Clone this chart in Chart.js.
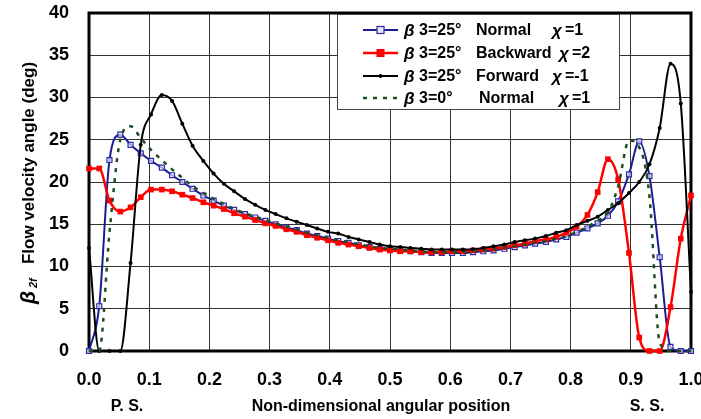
<!DOCTYPE html>
<html>
<head>
<meta charset="utf-8">
<script src="https://cdn.jsdelivr.net/npm/chart.js@4.4.1/dist/chart.umd.min.js"></script>
<style>
body { margin: 0; background: #fff; }
</style>
</head>
<body>
<canvas id="flowChart" width="701" height="419"></canvas>
<script>
// non-dimensional angular position (P.S. = 0, S.S. = 1)
const positions = [
    0, 0.017, 0.034, 0.052, 0.069, 0.086, 0.103, 0.121, 0.138, 0.155,
    0.172, 0.190, 0.207, 0.224, 0.241, 0.259, 0.276, 0.293, 0.310, 0.328,
    0.345, 0.362, 0.379, 0.397, 0.414, 0.431, 0.448, 0.466, 0.483, 0.500,
    0.517, 0.534, 0.552, 0.569, 0.586, 0.603, 0.621, 0.638, 0.655, 0.672,
    0.690, 0.707, 0.724, 0.741, 0.759, 0.776, 0.793, 0.810, 0.828, 0.845,
    0.862, 0.879, 0.897, 0.914, 0.931, 0.948, 0.966, 0.983, 1.000
];
// beta3=25 Normal chi=1
const normal25 = [
    0, 5.3, 22.6, 25.6, 24.4, 23.4, 22.5, 21.7, 20.8, 20.0,
    19.2, 18.4, 17.8, 17.2, 16.7, 16.2, 15.8, 15.4, 15.0, 14.6,
    14.3, 13.9, 13.6, 13.3, 13.0, 12.8, 12.5, 12.3, 12.1, 12.0,
    11.9, 11.8, 11.7, 11.6, 11.6, 11.6, 11.6, 11.7, 11.8, 11.9,
    12.1, 12.3, 12.5, 12.7, 12.9, 13.2, 13.5, 14.0, 14.5, 15.1,
    16.0, 17.7, 20.9, 24.8, 20.7, 11.1, 0.5, 0, 0
];
// beta3=25 Backward chi=2
const backward25 = [
    21.6, 21.6, 17.8, 16.5, 17.0, 18.2, 19.1, 19.1, 18.9, 18.5,
    18.1, 17.6, 17.2, 16.8, 16.3, 15.9, 15.5, 15.1, 14.8, 14.4,
    14.1, 13.7, 13.4, 13.1, 12.8, 12.6, 12.4, 12.2, 12.0, 11.9,
    11.8, 11.8, 11.7, 11.7, 11.7, 11.8, 11.8, 11.9, 12.0, 12.1,
    12.3, 12.5, 12.7, 13.0, 13.2, 13.5, 14.0, 14.7, 16.1, 18.8,
    22.7, 20.3, 11.6, 1.6, 0, 0, 5.2, 13.3, 18.4
];
// beta3=25 Forward chi=-1
const forward25 = [
    12.2, 0, 0, 0, 10.4, 24.4, 28.0, 30.3, 29.6, 26.9,
    24.3, 22.5, 21.0, 19.8, 18.9, 18.0, 17.3, 16.7, 16.2, 15.7,
    15.3, 14.9, 14.5, 14.1, 13.9, 13.5, 13.2, 12.9, 12.6, 12.4,
    12.3, 12.2, 12.1, 12.0, 12.0, 12.0, 12.0, 12.05, 12.2, 12.4,
    12.6, 12.9, 13.1, 13.3, 13.6, 14.0, 14.3, 14.9, 15.4, 15.9,
    16.7, 17.5, 18.7, 20.0, 22.1, 26.4, 34.0, 29.3, 7.0
];
// beta3=0 Normal chi=1
const normal0 = [
    0, 0, 14.0, 25.0, 26.6, 25.2, 23.8, 22.6, 21.5, 20.5,
    19.5, 18.7, 18.0, 17.4, 16.8, 16.3, 15.9, 15.5, 15.1, 14.7,
    14.4, 14.0, 13.7, 13.4, 13.1, 12.9, 12.6, 12.4, 12.2, 12.1,
    12.0, 11.9, 11.8, 11.7, 11.7, 11.7, 11.7, 11.8, 11.9, 12.0,
    12.2, 12.4, 12.6, 12.8, 13.0, 13.3, 13.6, 14.1, 14.7, 15.4,
    16.4, 19.5, 24.9, 24.1, 18.3, 1.0, 0, 0, 0
];

const legendBeta = ['3=25°', '3=25°', '3=25°', '3=0°'];
const legendType = ['Normal', 'Backward', 'Forward', 'Normal'];
const legendChi = ['=1', '=2', '=-1', '=1'];

const FONT = '"Liberation Sans", Arial, sans-serif';

function toPoints(ys) {
    return ys.map((y, i) => ({ x: positions[i], y: y }));
}

const datasets = [
    {
        label: 'normal25',
        data: toPoints(normal25),
        borderColor: '#1c1c96',
        backgroundColor: '#ffffff',
        borderWidth: 2,
        pointStyle: 'rect',
        pointRadius: 3.5,
        pointBorderWidth: 1.2,
        pointBorderColor: '#2a2aa8',
        pointBackgroundColor: 'rgba(255,255,255,0.6)',
        order: 4
    },
    {
        label: 'backward25',
        data: toPoints(backward25),
        borderColor: '#ff0000',
        backgroundColor: '#ff0000',
        borderWidth: 2.5,
        pointStyle: 'rect',
        pointRadius: 4,
        pointBorderWidth: 0,
        order: 3
    },
    {
        label: 'forward25',
        data: toPoints(forward25),
        borderColor: '#000000',
        backgroundColor: '#000000',
        borderWidth: 2,
        pointStyle: 'circle',
        pointRadius: 2,
        pointBorderWidth: 0,
        order: 2
    },
    {
        label: 'normal0',
        data: toPoints(normal0),
        borderColor: '#1e4d1e',
        borderWidth: 2.5,
        borderDash: [4, 6],
        pointRadius: 0,
        order: 1
    }
];

function drawMarker(ctx, i, x, y) {
    if (i === 0) {
        ctx.fillStyle = '#e6e6f5';
        ctx.fillRect(x - 3.5, y - 3.5, 7, 7);
        ctx.lineWidth = 1.2;
        ctx.strokeStyle = '#2a2aa8';
        ctx.strokeRect(x - 3.5, y - 3.5, 7, 7);
    } else if (i === 1) {
        ctx.fillStyle = '#ff0000';
        ctx.fillRect(x - 4, y - 4, 8, 8);
    } else if (i === 2) {
        ctx.fillStyle = '#000';
        ctx.beginPath();
        ctx.arc(x, y, 2, 0, Math.PI * 2);
        ctx.fill();
    }
}

const extras = {
    id: 'extras',
    beforeDatasetsDraw(chart) {
        const { ctx, chartArea: a } = chart;
        ctx.save();
        ctx.strokeStyle = '#000';
        ctx.lineWidth = 3;
        ctx.strokeRect(a.left, a.top, a.right - a.left, a.bottom - a.top);
        ctx.restore();
    },
    afterDatasetsDraw(chart) {
        const { ctx, chartArea: a } = chart;
        ctx.save();
        // legend box
        ctx.fillStyle = '#fff';
        ctx.fillRect(337, a.top + 1, 283, 96);
        ctx.strokeStyle = '#444';
        ctx.lineWidth = 1;
        ctx.strokeRect(337.5, a.top + 1.5, 282, 95);
        const rowY = [30, 53, 76, 98];
        rowY.forEach((y, i) => {
            const ds = chart.data.datasets[i];
            ctx.strokeStyle = ds.borderColor;
            ctx.lineWidth = ds.borderWidth;
            ctx.setLineDash(ds.borderDash || []);
            ctx.beginPath();
            ctx.moveTo(363, y);
            ctx.lineTo(398, y);
            ctx.stroke();
            ctx.setLineDash([]);
            drawMarker(ctx, i, 380.5, y);

            ctx.fillStyle = '#000';
            ctx.textBaseline = 'middle';
            ctx.textAlign = 'left';
            ctx.font = 'italic bold 17px ' + FONT;
            ctx.fillText('β', 404, y + 1);
            ctx.font = 'bold 16px ' + FONT;
            ctx.fillText(legendBeta[i], 419, y + 1);
            ctx.fillText(legendType[i], i === 3 ? 479 : 476, y + 1);
            const cx = (i === 1 || i === 3) ? 559 : 552;
            ctx.font = 'italic bold 17px ' + FONT;
            ctx.fillText('χ', cx, y + 1);
            ctx.font = 'bold 16px ' + FONT;
            ctx.fillText(legendChi[i], cx + 13, y + 1);
        });
        ctx.restore();
    },
    afterDraw(chart) {
        const { ctx } = chart;
        ctx.save();
        ctx.fillStyle = '#000';
        ctx.textBaseline = 'middle';
        ctx.textAlign = 'center';
        ctx.font = 'bold 16px ' + FONT;
        ctx.fillText('Non-dimensional angular position', 381, 407);
        ctx.fillText('P. S.', 127, 407);
        ctx.fillText('S. S.', 647, 407);

        // rotated y title: beta_2f  Flow velocity angle (deg)
        ctx.translate(29, 183);
        ctx.rotate(-Math.PI / 2);
        ctx.textAlign = 'left';
        const parts = [
            { t: 'β', f: 'italic bold 21px ' + FONT, dy: 0 },
            { t: ' 2f', f: 'italic bold 11px ' + FONT, dy: 5 },
            { t: '   Flow velocity angle (deg)', f: 'bold 17px ' + FONT, dy: 0 }
        ];
        let total = 0;
        parts.forEach(p => { ctx.font = p.f; p.w = ctx.measureText(p.t).width; total += p.w; });
        let x = -total / 2;
        parts.forEach(p => {
            ctx.font = p.f;
            ctx.fillText(p.t, x, p.dy);
            x += p.w;
        });
        ctx.restore();
    }
};

new Chart(document.getElementById('flowChart').getContext('2d'), {
    type: 'line',
    data: { datasets: datasets },
    options: {
        responsive: false,
        animation: false,
        clip: false,
        layout: { padding: { top: 13, right: 10, left: 0, bottom: 0 } },
        elements: { line: { tension: 0.4, cubicInterpolationMode: 'monotone' } },
        plugins: { legend: { display: false }, tooltip: { enabled: false } },
        scales: {
            x: {
                type: 'linear',
                min: 0,
                max: 1,
                ticks: {
                    stepSize: 0.1,
                    padding: 18,
                    color: '#000',
                    font: { family: FONT, size: 18, weight: 'bold' },
                    callback: v => v.toFixed(1),
                    maxRotation: 0
                },
                grid: { color: '#333', lineWidth: 1, drawTicks: false },
                border: { display: false },
                afterFit: s => { s.height = 68; s.paddingLeft = 0; s.paddingRight = 0; }
            },
            y: {
                min: 0,
                max: 40,
                ticks: {
                    stepSize: 5,
                    padding: 20,
                    color: '#000',
                    font: { family: FONT, size: 18, weight: 'bold' }
                },
                grid: { color: '#333', lineWidth: 1, drawTicks: false },
                border: { display: false },
                afterFit: s => { s.width = 89; s.paddingTop = 0; s.paddingBottom = 0; }
            }
        }
    },
    plugins: [extras]
});
</script>
</body>
</html>
